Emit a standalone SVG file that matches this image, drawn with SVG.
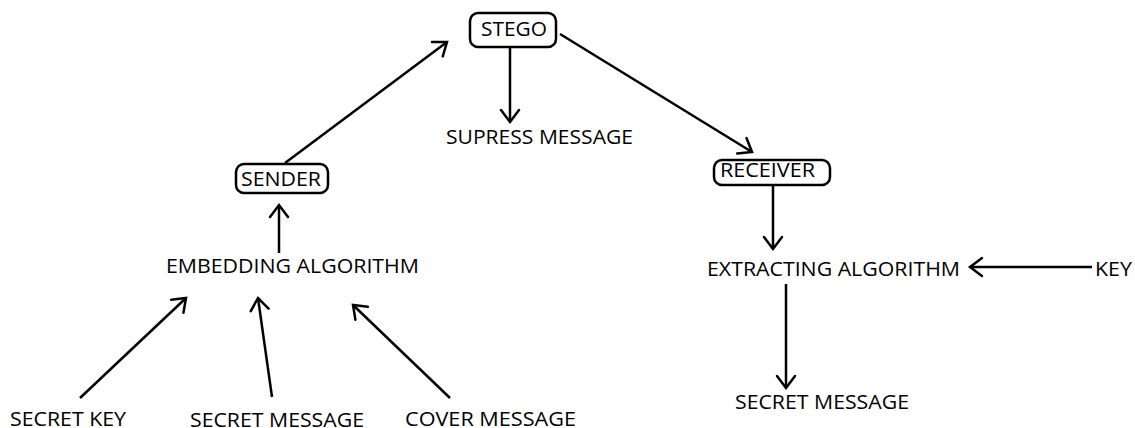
<svg xmlns="http://www.w3.org/2000/svg" width="1135" height="428" viewBox="0 0 1135 428">
<style>
text{font-family:"Open Sans","Noto Sans",sans-serif;font-size:20.5px;fill:#000}
.box{fill:#fff;stroke:#000;stroke-width:2.5}
.c{stroke:#000;stroke-width:2.5;fill:none;marker-end:url(#ah)}
</style>
<defs>
<marker id="ah" markerUnits="userSpaceOnUse" markerWidth="30" markerHeight="30" refX="15" refY="15" orient="auto">
<path d="M3,6 L15,15 L3,24" fill="none" stroke="#000" stroke-width="2.5" stroke-linecap="round"/>
</marker>
</defs>
<rect width="1135" height="428" fill="#fff"/>
<g id="connectors">
<line class="c" x1="285" y1="163" x2="447" y2="42"/>
<line class="c" x1="510" y1="48" x2="510" y2="122"/>
<line class="c" x1="560" y1="34" x2="752" y2="152"/>
<line class="c" x1="279" y1="253" x2="279" y2="205"/>
<line class="c" x1="773" y1="186" x2="773" y2="249"/>
<line class="c" x1="1092" y1="267" x2="970" y2="267"/>
<line class="c" x1="786" y1="284" x2="786" y2="388"/>
<line class="c" x1="80" y1="398" x2="186" y2="298"/>
<line class="c" x1="272" y1="397" x2="258" y2="298"/>
<line class="c" x1="450" y1="398" x2="353" y2="305"/>
</g>
<g id="stego">
<rect class="box" x="470" y="13" width="86" height="34" rx="8"/>
<text x="481" y="36" textLength="66" lengthAdjust="spacingAndGlyphs">STEGO</text>
</g>
<g id="supress">
<text x="446" y="144" textLength="187" lengthAdjust="spacingAndGlyphs">SUPRESS MESSAGE</text>
</g>
<g id="sender">
<rect class="box" x="236" y="164" width="92" height="29" rx="8"/>
<text x="241" y="186" textLength="80" lengthAdjust="spacingAndGlyphs">SENDER</text>
</g>
<g id="receiver">
<rect class="box" x="714" y="160" width="116" height="25" rx="8"/>
<text x="720" y="177" textLength="95" lengthAdjust="spacingAndGlyphs">RECEIVER</text>
</g>
<g id="embedding">
<text x="166" y="273" textLength="253" lengthAdjust="spacingAndGlyphs">EMBEDDING ALGORITHM</text>
</g>
<g id="extracting">
<text x="707" y="276" textLength="253" lengthAdjust="spacingAndGlyphs">EXTRACTING ALGORITHM</text>
</g>
<g id="key">
<text x="1095" y="276" textLength="37" lengthAdjust="spacingAndGlyphs">KEY</text>
</g>
<g id="secret-message-out">
<text x="735" y="409" textLength="174" lengthAdjust="spacingAndGlyphs">SECRET MESSAGE</text>
</g>
<g id="secret-key">
<text x="10" y="426" textLength="116" lengthAdjust="spacingAndGlyphs">SECRET KEY</text>
</g>
<g id="secret-message-in">
<text x="190" y="427" textLength="174" lengthAdjust="spacingAndGlyphs">SECRET MESSAGE</text>
</g>
<g id="cover-message">
<text x="405" y="426" textLength="171" lengthAdjust="spacingAndGlyphs">COVER MESSAGE</text>
</g>
</svg>
